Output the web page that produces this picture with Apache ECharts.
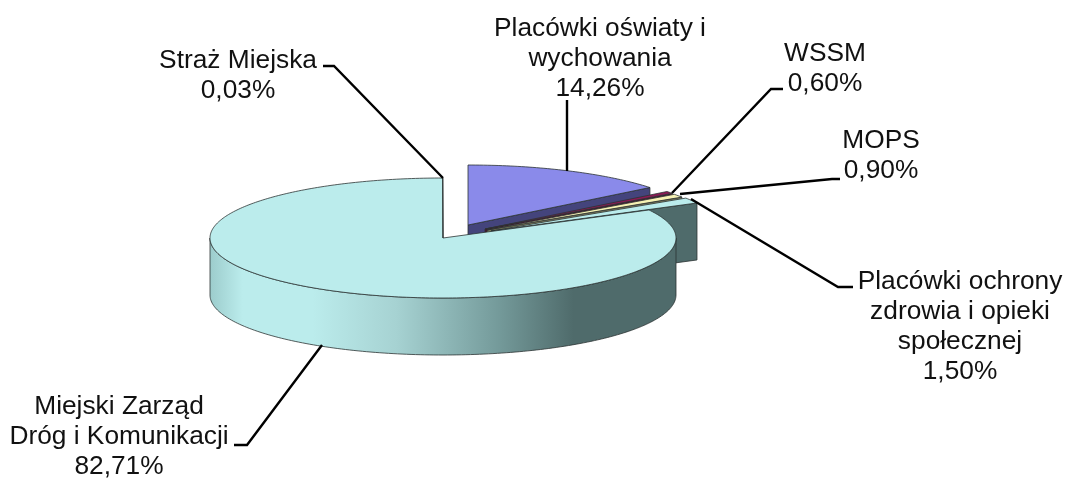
<!DOCTYPE html>
<html><head><meta charset="utf-8">
<style>html,body{margin:0;padding:0;background:#fff}#c{width:1069px;height:479px}</style>
<script src="https://cdn.jsdelivr.net/npm/echarts@6/dist/echarts.min.js"></script>
</head><body><div id="c"></div>
<script>
const categories = ['Placówki oświaty i\nwychowania','WSSM','MOPS','Placówki ochrony\nzdrowia i opieki\nspołecznej','Miejski Zarząd\nDróg i Komunikacji','Straż Miejska'];
const shares = [14.26,0.60,0.90,1.50,82.71,0.03];

// appearance and layout (not data)
const topColors = ['#8a8aea','#8b1a55','#f6f2b4','#bbecec','#bbecec','#bbecec'];
const faceColors = ['#44447c','#4a0e2d','#7f7c5c','#4f6b6b','#4f6b6b','#4f6b6b'];
const apex = [[468,225],[485,229],[487,230],[491,231],[443,238],[443,238]];
const RX = 233, RY = 60, DEPTH = 57;
const labelPos = [[600,59],[825,69],[881,156],[960,327],[119,437],[238,76]];
const leaders = [
  [[567,100],[567,171]],
  [[783,89],[771,89],[672,193]],
  [[840,179],[832,179],[680,194]],
  [[853,287],[838,287],[691,199]],
  [[234,445],[247,445],[322,345]],
  [[323,66],[334,66],[443,178]]
];
const total = shares.reduce((a,b)=>a+b,0);
const fmt = v => v.toFixed(2).replace('.',',') + '%';
const rows = shares.map((v,i)=>{
  const start = shares.slice(0,i).reduce((a,b)=>a+b,0);
  return [start, start+v, i];
});

function renderItem(params, api){
  const i = api.value(2);
  const a0 = api.value(0)/total*Math.PI*2, a1 = api.value(1)/total*Math.PI*2;
  const [cx,cy] = apex[i];
  const P = (x,y)=>api.coord([x,y]);
  const rim = (a,dy=0)=>P(cx+RX*Math.sin(a), cy-RY*Math.cos(a)+dy);
  const stroke = {stroke:'#2c3434',lineWidth:0.8};
  const children = [];
  // visible outer wall
  const f0 = Math.max(a0,Math.PI/2), f1 = Math.min(a1,Math.PI*1.5);
  if (f1>f0){
    const up=[],dn=[];
    const n=160;
    for(let k=0;k<=n;k++){const a=f0+(f1-f0)*k/n;up.push(rim(a));dn.unshift(rim(a,DEPTH));}
    children.push({type:'polygon',shape:{points:up.concat(dn)},style:{
      fill:{type:'linear',x:cx-RX,y:0,x2:cx+RX,y2:0,global:true,colorStops:[
        {offset:0,color:'#9ccccc'},{offset:0.07,color:'#bbecec'},{offset:0.22,color:'#bbecec'},
        {offset:0.4,color:'#a6d2d2'},{offset:0.62,color:'#749a9a'},{offset:0.78,color:'#4f6b6b'},{offset:1,color:'#4f6b6b'}]},
      ...stroke}});
  }
  // radial cut face at the slice's clockwise end
  if (a1<Math.PI){
    children.push({type:'polygon',shape:{points:[P(cx,cy),rim(a1),rim(a1,DEPTH),P(cx,cy+DEPTH)]},
      style:{fill:faceColors[i],...stroke}});
  }
  // top face
  const pts=[P(cx,cy)];
  const n=Math.max(2,Math.ceil((a1-a0)*60));
  for(let k=0;k<=n;k++) pts.push(rim(a0+(a1-a0)*k/n));
  children.push({type:'polygon',shape:{points:pts},style:{fill:topColors[i],...stroke}});
  return {type:'group',children};
}

function renderLabels(params, api){
  const i = api.value(2);
  const lp = api.coord(labelPos[i]);
  return {type:'group',children:[
    {type:'polyline',shape:{points:leaders[i].map(p=>api.coord(p))},style:{stroke:'#000',lineWidth:2.4,fill:null}},
    {type:'text',style:{x:lp[0],y:lp[1],text:categories[i]+'\n'+fmt(shares[i]),fill:'#111',
      font:'26.3px "Liberation Sans", Arial, sans-serif',lineHeight:30,align:'center',verticalAlign:'middle'}}
  ]};
}

const chart = echarts.init(document.getElementById('c'),null,{renderer:'canvas'});
chart.setOption({
  animation:false,
  backgroundColor:'#fff',
  grid:{left:0,right:0,top:0,bottom:0},
  xAxis:{type:'value',min:0,max:1069,show:false},
  yAxis:{type:'value',min:0,max:479,inverse:true,show:false},
  series:[
    {type:'custom',coordinateSystem:'cartesian2d',clip:false,silent:true,data:rows,
     encode:{x:0,y:1},renderItem,z:2},
    {type:'custom',coordinateSystem:'cartesian2d',clip:false,silent:true,data:rows,
     encode:{x:0,y:1},renderItem:renderLabels,z:3}
  ]
});
</script></body></html>
